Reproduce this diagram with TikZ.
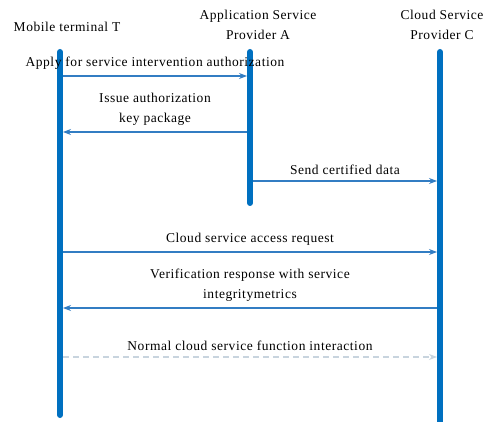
\documentclass[tikz,border=0pt]{standalone}
\usepackage{fontspec}
\setmainfont[LetterSpace=4]{Liberation Serif}
\usetikzlibrary{arrows.meta, positioning, calc}
\definecolor{lifeblue}{RGB}{0,112,192}
\definecolor{msgblue}{RGB}{50,125,195}
\definecolor{dashgray}{RGB}{200,212,222}

\begin{document}
\begin{tikzpicture}[
    % 1. styles
    x=1pt, y=-1pt,
    >={Stealth[length=8pt, width=6pt]},
    actor/.style={font=\fontsize{13.5}{19.5}\selectfont, align=center, text=black},
    lifeline/.style={line width=6pt, lifeblue, line cap=round},
    msglabel/.style={font=\fontsize{13.5}{19.5}\selectfont, align=center, text=black, inner sep=1pt},
    msg/.style={->, line width=1.2pt, msgblue, shorten >=3pt, shorten <=3pt},
    async/.style={->, line width=1.2pt, dashgray, dash pattern=on 6pt off 4pt, shorten >=3pt, shorten <=3pt}
]
    \useasboundingbox (0,0) rectangle (487,422);

    % =================================================================
    % I. participants and lifelines
    % =================================================================
    \node[actor] (T) at (67,27) {Mobile terminal T};
    \node[actor] (A) at (258,25) {Application Service\\Provider A};
    \node[actor] (C) at (442,25) {Cloud Service\\Provider C};

    \coordinate (Ttop) at (60,52);
    \coordinate (Tbot) at (60,415);
    \coordinate (Atop) at (250,52);
    \coordinate (Abot) at (250,203);
    \coordinate (Ctop) at (440,52);
    \coordinate (Cbot) at (440,430);

    \draw[lifeline] (Ttop) -- (Tbot);
    \draw[lifeline] (Atop) -- (Abot);
    \draw[lifeline] (Ctop) -- (Cbot);

    % =================================================================
    % II. messages
    % =================================================================
    \coordinate (m1) at (0,76);
    \coordinate (m2) at (0,132);
    \coordinate (m3) at (0,181);
    \coordinate (m4) at (0,252);
    \coordinate (m5) at (0,308);
    \coordinate (m6) at (0,357);

    \draw[msg] (Ttop |- m1) -- (Atop |- m1) node[msglabel, midway, above=5pt] {Apply for service intervention authorization};
    \draw[msg] (Atop |- m2) -- (Ttop |- m2) node[msglabel, midway, above=5pt] {Issue authorization\\key package};
    \draw[msg] (Atop |- m3) -- (Ctop |- m3) node[msglabel, midway, above=5pt] {Send certified data};
    \draw[msg] (Ttop |- m4) -- (Ctop |- m4) node[msglabel, midway, above=5pt] {Cloud service access request};
    \draw[msg] (Ctop |- m5) -- (Ttop |- m5) node[msglabel, midway, above=5pt] {Verification response with service\\integritymetrics};
    \draw[async] (Ttop |- m6) -- (Ctop |- m6) node[msglabel, midway, above=5pt] {Normal cloud service function interaction};

\end{tikzpicture}
\end{document}
